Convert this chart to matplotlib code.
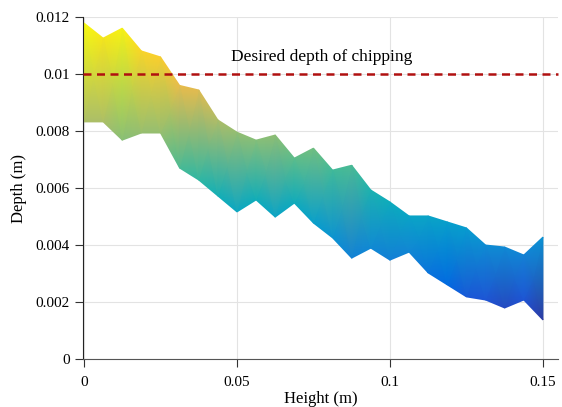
import numpy as np
import matplotlib
matplotlib.use("Agg")
import matplotlib.pyplot as plt
from matplotlib.colors import LinearSegmentedColormap

# height positions (m) and band envelopes of chipping depth (m)
height = [0.0, 0.00625, 0.0125, 0.01875, 0.025, 0.03125, 0.0375, 0.04375,
          0.05, 0.05625, 0.0625, 0.06875, 0.075, 0.08125, 0.0875, 0.09375,
          0.1, 0.10625, 0.1125, 0.11875, 0.125, 0.13125, 0.1375, 0.14375, 0.15]
depth_upper = [0.01179, 0.01126, 0.01161, 0.01081, 0.0106, 0.0096, 0.00944,
               0.00839, 0.00796, 0.00768, 0.00786, 0.00705, 0.0074, 0.00663,
               0.0068, 0.00593, 0.00551, 0.00502, 0.00502, 0.00481, 0.0046,
               0.004, 0.00393, 0.00365, 0.00428]
depth_lower = [0.00832, 0.00832, 0.00768, 0.00793, 0.00793, 0.0067, 0.00628,
               0.00572, 0.00516, 0.00558, 0.00498, 0.00547, 0.00477, 0.00425,
               0.00354, 0.00389, 0.00347, 0.00375, 0.00302, 0.0026, 0.00218,
               0.00207, 0.00179, 0.00207, 0.00137]
desired_depth = 0.01

x_ticks = [0, 0.05, 0.1, 0.15]
x_ticklabels = ["0", "0.05", "0.1", "0.15"]
y_ticks = [0, 0.002, 0.004, 0.006, 0.008, 0.01, 0.012]
y_ticklabels = ["0", "0.002", "0.004", "0.006", "0.008", "0.01", "0.012"]

# parula-like colour map (MATLAB default)
parula = LinearSegmentedColormap.from_list("parula_like", [
    (0.000, (0.2081, 0.1663, 0.5292)),
    (0.095, (0.1253, 0.3242, 0.8303)),
    (0.143, (0.0060, 0.4086, 0.8828)),
    (0.238, (0.0779, 0.5040, 0.8384)),
    (0.333, (0.0265, 0.6137, 0.8135)),
    (0.429, (0.0590, 0.6838, 0.7254)),
    (0.508, (0.2178, 0.7250, 0.6193)),
    (0.587, (0.4420, 0.7481, 0.5033)),
    (0.667, (0.6473, 0.7456, 0.4188)),
    (0.762, (0.8507, 0.7299, 0.3360)),
    (0.841, (0.9938, 0.7455, 0.2403)),
    (0.905, (0.9789, 0.8271, 0.1633)),
    (0.952, (0.9588, 0.8949, 0.1132)),
    (1.000, (0.9763, 0.9831, 0.0538))])

plt.rcParams["font.family"] = ["Liberation Serif", "DejaVu Serif"]

fig = plt.figure(figsize=(5.62, 4.07), dpi=100)
ax = fig.add_axes([0.1477, 0.1179, 0.845, 0.8403])

X = np.array([height, height])
Y = np.array([depth_lower, depth_upper])
ax.pcolormesh(X, Y, Y, shading="gouraud", cmap=parula, vmin=0.001, vmax=0.0118,
              zorder=2)

ax.axhline(desired_depth, color="#b01010", ls=(0, (3.2, 2.2)), lw=1.8,
           zorder=3, clip_on=False)
ax.text(0.0776, desired_depth + 0.0003, "Desired depth of chipping",
        ha="center", va="bottom", fontsize=12.5, zorder=4)

ax.set_xlim(-0.00033, 0.1549)
ax.set_ylim(0, 0.012)
ax.set_xticks(x_ticks)
ax.set_xticklabels(x_ticklabels)
ax.set_yticks(y_ticks)
ax.set_yticklabels(y_ticklabels)
ax.tick_params(labelsize=11, length=6, width=0.8, color="#333333")
ax.tick_params(axis="x", pad=6)
ax.grid(True, color="#e3e3e3", lw=0.8, zorder=0)
ax.set_axisbelow(True)
for side in ("top", "right"):
    ax.spines[side].set_visible(False)
ax.spines["left"].set_color("#222222")
ax.spines["bottom"].set_color("#555555")
ax.set_xlabel("Height (m)", fontsize=12, labelpad=2)
ax.set_ylabel("Depth (m)", fontsize=12, labelpad=6)

fig.savefig("out.png", dpi=100)
